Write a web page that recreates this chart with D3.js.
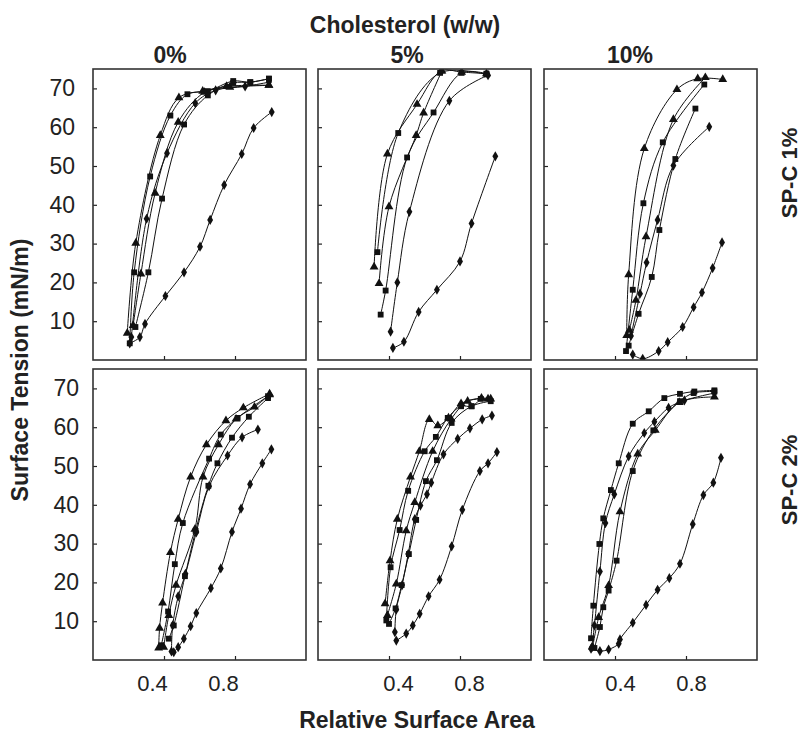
<!DOCTYPE html>
<html>
<head>
<meta charset="utf-8">
<script src="https://cdn.jsdelivr.net/npm/d3@7"></script>
<style>
  body { margin: 0; background: #fff; }
  svg { display: block; font-family: "Liberation Sans", Arial, sans-serif; }
</style>
</head>
<body>
<script>
// ---- data ----
var cholesterol = ["0%", "5%", "10%"];
var spcLevels = ["SP-C 1%", "SP-C 2%"];
var xTicks = [0.4, 0.8];
var yTicks = [10, 20, 30, 40, 50, 60, 70];

// SP-C 1%, cholesterol 0%
var spc1_chol0 = [
  {m: "tri", pts: [[.193,6.9],[.241,30.1],[.379,57.9],[.484,67.6],[.618,69.3],[.771,70.3],[.991,70.8]]},
  {m: "sq",  pts: [[.207,4.3],[.232,22.6],[.322,47.3],[.436,63.0],[.532,68.5],[.647,69.3],[.790,71.9],[.886,71.6],[.991,72.5]]},
  {m: "tri", pts: [[.226,8.9],[.270,22.2],[.350,43.0],[.480,61.3],[.628,69.0],[.752,70.5],[.991,70.8]]},
  {m: "dia", pts: [[.216,5.9],[.302,36.4],[.417,53.3],[.576,66.2],[.691,69.5],[.857,70.5],[.991,71.6]]},
  {m: "sq",  pts: [[.239,8.5],[.312,22.6],[.389,41.6],[.513,60.7],[.647,68.2],[.790,71.4],[.886,71.6],[.991,72.5]]},
  {m: "dia", pts: [[.207,4.3],[.264,5.9],[.293,9.3],[.408,16.5],[.513,22.6],[.603,29.2],[.660,36.1],[.739,45.1],[.838,53.1],[.905,59.8],[1.007,63.9]]}
];
// SP-C 1%, cholesterol 5%
var spc1_chol5 = [
  {m: "tri", pts: [[.316,24.0],[.391,53.1],[.558,65.9],[.694,74.5],[.809,74.2],[.949,73.8]]},
  {m: "sq",  pts: [[.335,27.8],[.452,58.5],[.688,74.0],[.949,73.6]]},
  {m: "tri", pts: [[.344,19.7],[.400,39.5],[.553,57.9],[.595,63.7],[.698,74.5]]},
  {m: "sq",  pts: [[.353,11.7],[.381,17.9],[.502,52.2],[.651,63.8],[.809,74.0],[.949,73.8]]},
  {m: "dia", pts: [[.409,7.3],[.447,20.0],[.515,38.2],[.740,66.8],[.958,73.4]]},
  {m: "dia", pts: [[.422,3.1],[.484,4.7],[.567,12.4],[.670,18.1],[.800,25.4],[.865,35.2],[.999,52.5]]}
];
// SP-C 1%, cholesterol 10%
var spc1_chol10 = [
  {m: "tri", pts: [[.466,6.3],[.477,22.0],[.565,54.5],[.749,69.7],[.866,72.5],[1.007,72.3]]},
  {m: "sq",  pts: [[.462,2.3],[.500,18.1],[.560,40.4],[.669,56.1],[.903,71.0]]},
  {m: "tri", pts: [[.481,7.7],[.518,15.4],[.575,31.8],[.729,62.0],[.909,72.8]]},
  {m: "dia", pts: [[.490,6.2],[.541,17.1],[.578,25.1],[.640,36.1],[.729,50.1],[.931,60.1]]},
  {m: "sq",  pts: [[.477,3.7],[.533,11.9],[.607,21.4],[.650,33.5],[.740,51.8],[.853,64.8]]},
  {m: "dia", pts: [[.500,1.4],[.556,0.3],[.646,2.3],[.697,4.6],[.781,8.5],[.843,13.6],[.890,17.4],[.950,23.7],[1.003,30.3]]}
];
// SP-C 2%, cholesterol 0%
var spc2_chol0 = [
  {m: "tri", pts: [[.370,3.1],[.375,8.2],[.392,14.7],[.436,27.7],[.480,36.3],[.550,47.2],[.639,55.5],[.749,61.7],[.847,65.0],[.995,68.6]]},
  {m: "sq",  pts: [[.385,3.8],[.423,12.5],[.461,24.7],[.506,35.3],[.654,51.9],[.720,58.1],[.815,62.4],[.986,68.0]]},
  {m: "tri", pts: [[.398,3.3],[.427,11.5],[.468,19.3],[.574,33.7],[.620,47.2],[.707,55.5],[.806,62.1],[.910,65.2],[.995,68.4]]},
  {m: "sq",  pts: [[.427,5.5],[.455,8.9],[.518,21.6],[.578,33.3],[.650,44.9],[.701,50.7],[.783,57.3],[.878,62.7],[.986,67.5]]},
  {m: "dia", pts: [[.442,2.2],[.449,8.9],[.480,16.4],[.521,22.2],[.582,32.9],[.654,44.8],[.758,52.7],[.840,57.4],[.929,59.4]]},
  {m: "dia", pts: [[.455,2.0],[.480,3.3],[.512,5.5],[.550,8.7],[.582,12.1],[.664,18.5],[.720,23.6],[.783,33.0],[.834,39.0],[.885,45.3],[.954,50.7],[1.005,54.3]]}
];
// SP-C 2%, cholesterol 5%
var spc2_chol5 = [
  {m: "tri", pts: [[.378,14.5],[.406,25.6],[.447,36.3],[.521,47.2],[.571,53.8],[.627,62.0],[.675,60.4],[.735,62.4],[.806,66.1],[.921,67.5],[.973,67.3]]},
  {m: "sq",  pts: [[.385,10.2],[.409,23.9],[.460,33.5],[.508,43.6],[.601,53.8],[.664,57.5],[.731,62.4],[.806,65.4],[.865,65.4],[.917,67.3]]},
  {m: "tri", pts: [[.391,11.5],[.441,19.6],[.497,33.3],[.545,40.6],[.646,53.8],[.750,62.1],[.843,66.7],[.958,67.3]]},
  {m: "sq",  pts: [[.400,9.3],[.437,13.3],[.471,19.3],[.512,27.3],[.553,36.1],[.608,46.1],[.670,51.5],[.753,61.1],[.865,65.4],[.973,66.7]]},
  {m: "dia", pts: [[.433,7.2],[.441,13.0],[.474,19.3],[.508,27.3],[.545,36.3],[.577,39.8],[.614,42.7],[.638,45.7],[.707,53.0],[.787,57.0],[.856,59.7],[.925,62.0],[.980,63.0]]},
  {m: "dia", pts: [[.441,5.0],[.497,6.8],[.534,8.9],[.573,11.9],[.623,16.4],[.685,20.7],[.753,29.3],[.813,38.7],[.912,48.7],[.958,50.7],[1.008,53.6]]}
];
// SP-C 2%, cholesterol 10%
var spc2_chol10 = [
  {m: "sq",  pts: [[.265,5.6],[.278,14.0],[.312,29.9],[.334,36.5],[.377,43.8],[.421,50.7],[.500,60.9],[.590,64.1],[.678,67.5],[.766,68.6],[.847,69.2],[.960,69.5]]},
  {m: "dia", pts: [[.270,3.3],[.284,8.9],[.315,22.8],[.346,35.3],[.396,42.7],[.477,52.5],[.565,58.5],[.622,61.4],[.702,65.0],[.791,66.9],[.960,68.8]]},
  {m: "tri", pts: [[.274,3.3],[.308,11.0],[.364,19.2],[.428,38.2],[.528,53.1],[.627,59.2],[.762,66.4],[.960,67.8]]},
  {m: "sq",  pts: [[.284,3.1],[.315,8.5],[.334,13.6],[.364,17.9],[.409,25.6],[.500,48.7],[.616,59.2],[.766,66.7],[.843,68.8],[.960,69.2]]},
  {m: "dia", pts: [[.265,2.9],[.315,2.3],[.364,2.7],[.421,4.2],[.428,5.3],[.500,9.6],[.575,14.2],[.640,18.1],[.706,21.1],[.766,24.8],[.838,35.0],[.898,42.5],[.954,45.7],[.997,52.1]]}
];

var panels = [
  [spc1_chol0, spc1_chol5, spc1_chol10],
  [spc2_chol0, spc2_chol5, spc2_chol10]
];

// ---- layout ----
var W = 802, H = 732;
var colX = [93, 318, 544], rowY = [69, 369];
var pw = 213, ph = 291;
var yPad = [18, 14];          // tick label gap, per row
var xLabelDx = [-12, 9, 5];   // tick labels sit a bit off their ticks in the original
var ink = "#222";

var svg = d3.select("body").append("svg")
  .attr("width", W)
  .attr("height", H)

var x = d3.scaleLinear().domain([0, 1.2]).range([0, pw])
var y = d3.scaleLinear().domain([0, 75]).range([ph, 0])

var symbols = {
  tri: d3.symbol().type(d3.symbolTriangle).size(34),
  sq:  d3.symbol().type(d3.symbolSquare).size(34),
  dia: d3.symbol().type(d3.symbolDiamond).size(30)
}

var line = d3.line()
  .x(function(d){ return x(d[0]) })
  .y(function(d){ return y(d[1]) })
  .curve(d3.curveCatmullRom.alpha(0.5))

panels.forEach(function(row, r){
  row.forEach(function(curves, c){
    var g = svg.append("g")
      .attr("transform", "translate(" + colX[c] + "," + rowY[r] + ")")

    var clipId = "clip-" + r + "-" + c
    g.append("clipPath").attr("id", clipId)
      .append("rect").attr("width", pw).attr("height", ph)

    // axes: inward ticks, labels only on the outer panels
    var ya = g.append("g")
      .call(d3.axisLeft(y).tickValues(yTicks).tickSizeInner(-4).tickSizeOuter(0)
        .tickPadding(yPad[r]).tickFormat(c === 0 ? d3.format("d") : function(){ return "" }))
    var xa = g.append("g")
      .attr("transform", "translate(0," + ph + ")")
      .call(d3.axisBottom(x).tickValues(xTicks).tickSizeInner(-4).tickSizeOuter(0)
        .tickPadding(15).tickFormat(r === 1 ? d3.format(".1f") : function(){ return "" }))
    ;[ya, xa].forEach(function(a){
      a.select(".domain").remove()
      a.selectAll("line").attr("stroke", ink).attr("stroke-width", 1.2)
      a.selectAll("text").attr("fill", ink).attr("font-family", "Liberation Sans, Arial, sans-serif")
    })
    ya.selectAll("text").attr("font-size", 23)
    xa.selectAll("text").attr("font-size", 22).attr("dx", xLabelDx[c])

    var plot = g.append("g").attr("clip-path", "url(#" + clipId + ")")

    plot.selectAll("path.curve")
      .data(curves)
      .enter()
      .append("path")
      .attr("class", "curve")
      .attr("d", function(d){ return line(d.pts) })
      .attr("fill", "none")
      .attr("stroke", "#111")
      .attr("stroke-width", 1)

    plot.selectAll("g.marks")
      .data(curves)
      .enter()
      .append("g")
      .attr("class", "marks")
      .selectAll("path")
      .data(function(d){
        return d.pts.map(function(p){ return {m: d.m, p: p} })
      })
      .enter()
      .append("path")
      .attr("d", function(d){ return symbols[d.m]() })
      .attr("transform", function(d){
        return "translate(" + x(d.p[0]) + "," + y(d.p[1]) + ")"
      })
      .attr("fill", "#111")

    g.append("rect")
      .attr("width", pw)
      .attr("height", ph)
      .attr("fill", "none")
      .attr("stroke", "#333")
      .attr("stroke-width", 1.6)
  })
})

// ---- titles ----
function label(txt, tx, ty, size, rot, anchor) {
  svg.append("text")
    .attr("transform", "translate(" + tx + "," + ty + ")" + (rot ? " rotate(" + rot + ")" : ""))
    .attr("text-anchor", anchor || "middle")
    .attr("font-size", size)
    .attr("font-weight", "bold")
    .attr("fill", ink)
    .text(txt)
}

label("Cholesterol (w/w)", 405, 33, 23)
var colLabelX = [170, 407, 630]
cholesterol.forEach(function(t, i){ label(t, colLabelX[i], 63, 23) })

var rowLabelY = [173, 480]
spcLevels.forEach(function(t, i){ label(t, 797, rowLabelY[i], 22, -90) })

label("Surface Tension (mN/m)", 28, 370, 23, -90)
label("Relative Surface Area", 417, 728, 23)
</script>
</body>
</html>
